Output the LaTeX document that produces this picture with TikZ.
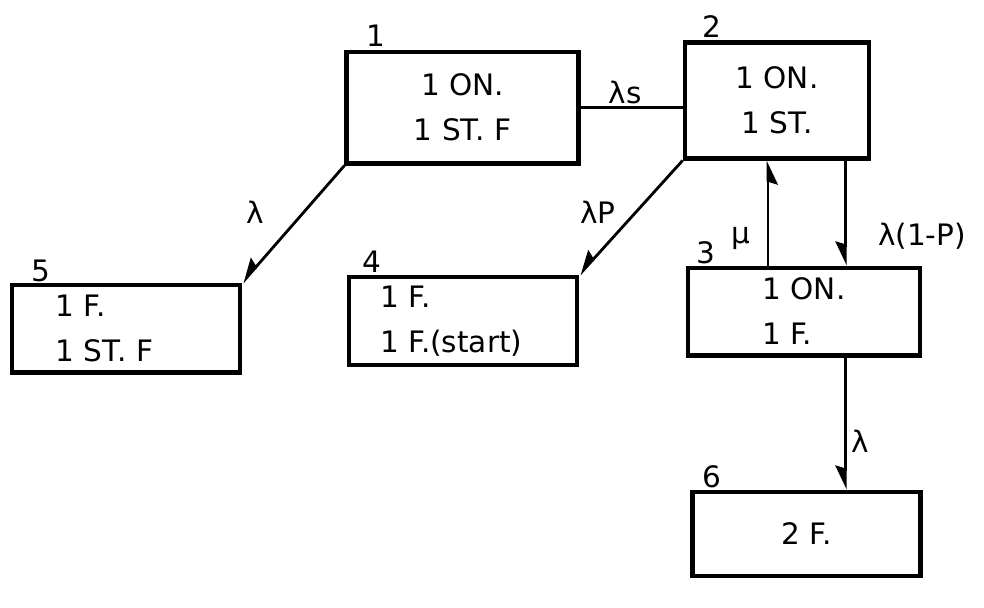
\documentclass[tikz,border=0pt]{standalone}
\usepackage{fontspec}
\setmainfont{DejaVu Sans}
\usetikzlibrary{arrows.meta}

\tikzstyle{every node}=[font={\fontsize{21}{32}\selectfont}]
\tikzstyle{state}=[draw=black, line width=3.4pt, inner sep=0pt, align=center]
\tikzstyle{stnum}=[inner sep=0pt]
\tikzstyle{rate}=[line width=2pt, -{Stealth[harpoon,swap,length=15pt,width=14pt,inset=2pt]}]
\tikzstyle{link}=[line width=2pt]

\begin{document}
\begin{tikzpicture}[x=0.025cm, y=-0.025cm]
    \useasboundingbox (0,0) rectangle (984,607);
    % states
    \node [state, minimum width=5.78cm, minimum height=2.78cm] (b1) at (462.5,107.5) {1 ON.\\1 ST. F};
    \node [state, minimum width=4.6cm, minimum height=2.88cm] (b2) at (777,100.5) {1 ON.\\1 ST.};
    \node [state, align=left, minimum width=5.8cm, minimum height=2.18cm] (b3) at (804,311.5) {1 ON.\\1 F.};
    \node [state, align=left, inner xsep=0.78cm, text width=4.14cm, minimum height=2.2cm] (b4) at (463,321) {1 F.\\1 F.(start)};
    \node [state, align=left, inner xsep=1.08cm, text width=3.54cm, minimum height=2.18cm] (b5) at (126,328.5) {1 F.\\1 ST. F};
    \node [state, minimum width=5.68cm, minimum height=2.1cm] (b6) at (806.5,534) {2 F.};
    % state numbers
    \node [stnum] (n1) at (376,36) {1};
    \node [stnum] (n2) at (712,27) {2};
    \node [stnum] (n3) at (706,253) {3};
    \node [stnum] (n4) at (372,262) {4};
    \node [stnum] (n5) at (41,271) {5};
    \node [stnum] (n6) at (712,477) {6};
    % transitions
    \draw [link] (b1.east) -- (b1.east -| b2.west);
    \node (ls) at (625,92) {λs};
    \draw [rate] (b1.south west) -- (b5.north east);
    \node (l15) at (255,212) {λ};
    \draw [rate] (b2.south west) -- (b4.north east);
    \node (l24) at (598,212) {λP};
    \coordinate (up) at ([xshift=-0.9cm]b3.north);
    \draw [rate] (up) -- (up |- b2.south);
    \node (mu) at (741,238) {μ};
    \coordinate (dn) at ([xshift=1.03cm]b3.north);
    \draw [rate] (dn |- b2.south) -- (dn);
    \node (l23) at (922,236) {λ(1-P)};
    \coordinate (fl) at ([xshift=1.03cm]b3.south);
    \draw [rate] (fl) -- (fl |- b6.north);
    \node (l36) at (860,441) {λ};
\end{tikzpicture}
\end{document}
